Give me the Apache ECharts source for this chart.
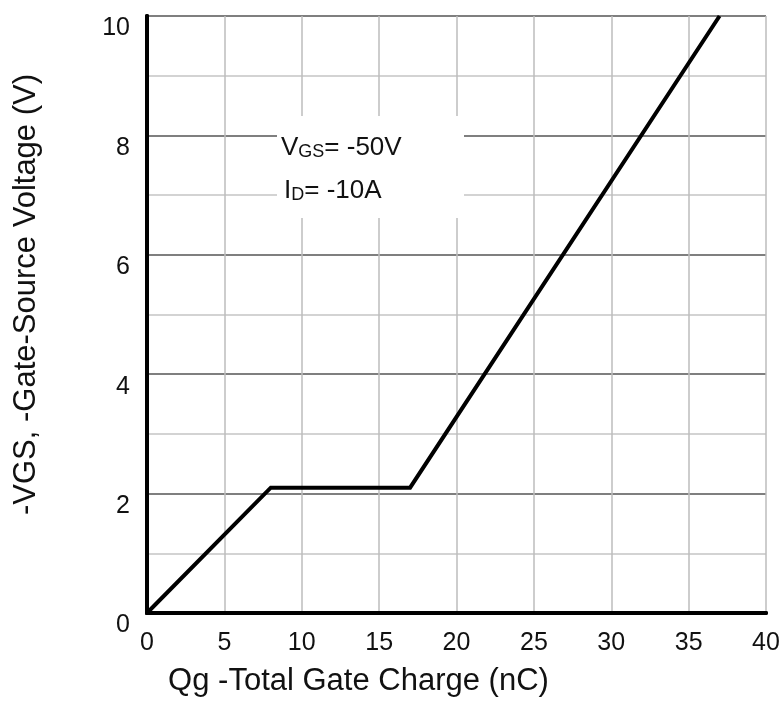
<!DOCTYPE html>
<html>
<head>
<meta charset="utf-8">
<script src="https://cdn.jsdelivr.net/npm/echarts@6/dist/echarts.min.js"></script>
<style>
html,body{margin:0;padding:0;background:#fff;}
#chart{width:784px;height:701px;}
</style>
</head>
<body>
<div id="chart"></div>
<script>
// Data
var qgValues = [0, 8, 17, 37];          // Qg, total gate charge (nC)
var vgsValues = [0, 2.1, 2.1, 10];      // -VGS (V)
var xTicks = [0, 5, 10, 15, 20, 25, 30, 35, 40];
var yTickLabels = [0, 2, 4, 6, 8, 10];
var xTitle = 'Qg -Total Gate Charge (nC)';
var yTitle = '-VGS, -Gate-Source Voltage (V)';
var noteLine1 = ['V', 'GS', '= -50V'];
var noteLine2 = ['I', 'D', '= -10A'];

var FONT = 'Liberation Sans, Arial, sans-serif';
var chart = echarts.init(document.getElementById('chart'));

var points = qgValues.map(function (q, i) { return [q, vgsValues[i]]; });

var richNote = {
  a: { fontFamily: FONT, fontSize: 26, fill: '#111', verticalAlign: 'bottom', lineHeight: 32 },
  s: { fontFamily: FONT, fontSize: 18, fill: '#111', verticalAlign: 'bottom', lineHeight: 24 }
};

var option = {
  backgroundColor: '#ffffff',
  animation: false,
  grid: { left: 147, right: 18, top: 16, bottom: 88, containLabel: false, outerBoundsMode: 'none' },
  xAxis: [{
    type: 'value', min: xTicks[0], max: xTicks[xTicks.length - 1], interval: 5,
    position: 'bottom',
    axisLine: { show: true, lineStyle: { color: '#000', width: 4 } },
    axisTick: { show: false },
    axisLabel: { fontFamily: FONT, fontSize: 25, color: '#111', margin: 18 },
    splitLine: { show: true, lineStyle: { color: '#bdbdbd', width: 1.5 } },
    name: xTitle, nameLocation: 'middle', nameGap: 53,
    nameTextStyle: { fontFamily: FONT, fontSize: 31, color: '#111', padding: [0, 196, 0, 0] }
  }, {
    type: 'value', min: 0, max: 40, position: 'top',
    axisLine: { show: true, lineStyle: { color: '#000', width: 4 } },
    axisTick: { show: false }, axisLabel: { show: false }, splitLine: { show: false }
  }],
  yAxis: [{
    type: 'value', min: 0, max: 10, interval: 1,
    position: 'left',
    axisLine: { show: true, lineStyle: { color: '#000', width: 4 } },
    axisTick: { show: false },
    axisLabel: {
      fontFamily: FONT, fontSize: 25, color: '#111', margin: 17,
      verticalAlign: 'top', padding: [0, 0, 0, 0],
      formatter: function (v) { return yTickLabels.indexOf(v) >= 0 ? String(v) : ''; }
    },
    splitLine: { show: true, lineStyle: { color: ['#555555', '#c4c4c4'], width: 1.5 } },
    name: yTitle, nameLocation: 'middle', nameGap: 105, nameRotate: 90,
    nameTextStyle: { fontFamily: FONT, fontSize: 31, color: '#111', padding: [0, 0, 0, 40] }
  }, {
    type: 'value', min: 0, max: 10, position: 'right',
    axisLine: { show: true, lineStyle: { color: '#000', width: 4 } },
    axisTick: { show: false }, axisLabel: { show: false }, splitLine: { show: false }
  }],
  series: [{
    type: 'line', data: points, xAxisIndex: 0, yAxisIndex: 0,
    showSymbol: false, symbol: 'none',
    lineStyle: { color: '#000', width: 4, join: 'miter' },
    z: 10
  }],
  graphic: [{
    type: 'rect', z: 50,
    shape: { x: 277, y: 116, width: 187, height: 102 },
    style: { fill: '#fff' }
  }, {
    type: 'text', z: 60, left: 281, top: 135,
    style: {
      text: '{a|' + noteLine1[0] + '}{s|' + noteLine1[1] + '}{a|' + noteLine1[2] + '}',
      rich: richNote
    }
  }, {
    type: 'text', z: 60, left: 284, top: 178,
    style: {
      text: '{a|' + noteLine2[0] + '}{s|' + noteLine2[1] + '}{a|' + noteLine2[2] + '}',
      rich: richNote
    }
  }]
};
chart.setOption(option);
</script>
</body>
</html>
